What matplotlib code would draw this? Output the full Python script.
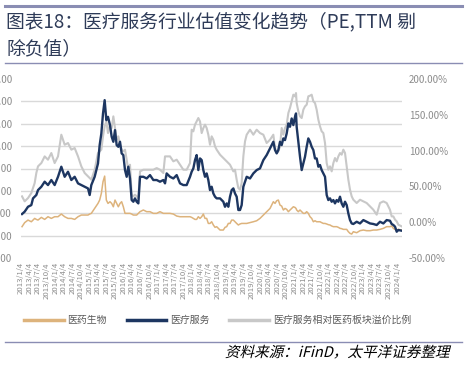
import numpy as np
import matplotlib
matplotlib.use("Agg")
import matplotlib.pyplot as plt
from matplotlib.lines import Line2D
from matplotlib.textpath import TextPath
from matplotlib.patches import PathPatch
from matplotlib.font_manager import FontProperties
from matplotlib.transforms import Affine2D

plt.rcParams['font.family'] = ['Noto Sans CJK SC', 'DejaVu Sans']

# dates as decimal years
dates = [
    2013.030, 2013.107, 2013.205, 2013.302, 2013.351, 2013.400, 2013.448, 2013.497, 2013.595, 2013.692,
    2013.789, 2013.887, 2013.984, 2014.082, 2014.179, 2014.277, 2014.374, 2014.472, 2014.569, 2014.667,
    2014.764, 2014.862, 2014.959, 2015.008, 2015.056, 2015.154, 2015.251, 2015.300, 2015.349, 2015.398,
    2015.446, 2015.495, 2015.544,
    2015.602, 2015.651, 2015.700, 2015.749, 2015.797, 2015.846, 2015.895, 2015.943, 2015.992, 2016.041,
    2016.090, 2016.138, 2016.187, 2016.236, 2016.285, 2016.333, 2016.382, 2016.431, 2016.480, 2016.577,
    2016.675, 2016.772, 2016.869, 2016.967, 2017.064, 2017.162, 2017.211, 2017.259, 2017.357, 2017.454,
    2017.552, 2017.649, 2017.747, 2017.844, 2017.942, 2017.990, 2018.039, 2018.088, 2018.136, 2018.185,
    2018.234, 2018.283, 2018.331, 2018.380, 2018.429, 2018.477, 2018.526, 2018.575, 2018.624, 2018.673,
    2018.721, 2018.819, 2018.916, 2018.965, 2019.014, 2019.062, 2019.111, 2019.160, 2019.209, 2019.257,
    2019.306, 2019.355, 2019.404, 2019.452, 2019.501, 2019.550, 2019.599, 2019.696, 2019.793, 2019.891,
    2019.988, 2020.086, 2020.183, 2020.281, 2020.378, 2020.427, 2020.476, 2020.524, 2020.573, 2020.622,
    2020.671, 2020.719, 2020.768, 2020.817,
    2020.865, 2020.914, 2020.963, 2021.012, 2021.041, 2021.060, 2021.109, 2021.158, 2021.207, 2021.255,
    2021.304, 2021.353, 2021.401, 2021.450, 2021.499, 2021.548, 2021.596, 2021.645, 2021.694, 2021.743,
    2021.791, 2021.840, 2021.889, 2021.938, 2021.986, 2022.035, 2022.084, 2022.133, 2022.181, 2022.230,
    2022.279, 2022.327, 2022.376, 2022.425, 2022.474, 2022.523, 2022.571, 2022.620, 2022.669, 2022.717,
    2022.815, 2022.912, 2023.010, 2023.107, 2023.205, 2023.302, 2023.400, 2023.497, 2023.595, 2023.692,
    2023.789, 2023.838, 2023.887, 2023.936, 2023.985, 2024.033, 2024.131,
]

# 医药生物 PE(TTM)
pharma_pe = [
    28.0, 31.6, 33.9, 32.4, 33.9, 35.4, 34.5, 33.9, 36.3, 34.5,
    36.9, 35.4, 36.9, 36.9, 39.3, 36.9, 35.4, 35.4, 34.5, 36.9,
    38.4, 38.4, 38.4, 39.3, 39.9, 44.3, 48.8, 51.8, 57.7, 68.2,
    73.2, 51.8, 48.8,
    50.3, 48.8, 45.8, 51.8, 48.8, 45.8, 48.8, 50.3, 45.8, 39.9,
    39.9, 39.9, 39.9, 39.3, 38.4, 38.4, 38.4, 39.9, 41.4, 42.9,
    41.4, 41.4, 39.9, 39.9, 41.4, 39.9, 39.9, 39.9, 39.9, 39.3,
    37.5, 36.9, 36.9, 36.9, 36.9, 36.3, 35.4, 34.5, 34.5, 36.9,
    35.4, 36.9, 39.3, 35.4, 35.4, 30.9, 30.9, 32.4, 29.5, 27.4,
    28.0, 25.0, 25.0, 27.4, 28.0, 30.9, 30.9, 33.9, 33.9, 32.4,
    30.9, 29.5, 30.4, 30.9, 30.9, 30.9, 30.9, 31.6, 32.4, 33.3,
    35.4, 38.4, 41.4, 44.3, 50.3, 48.8, 51.2, 51.8, 47.3, 46.4,
    42.9, 44.3, 43.5, 41.4,
    42.9, 44.3, 45.8, 45.2, 44.3, 42.9, 41.4, 42.9, 41.4, 39.9,
    39.9, 41.4, 39.9, 36.9, 35.4, 32.4, 33.3, 32.4, 32.4, 32.4,
    31.6, 30.9, 30.9, 30.4, 29.8, 29.5, 28.6, 28.0, 28.0, 28.0,
    27.4, 26.5, 26.2, 25.6, 25.6, 25.6, 23.5, 22.0, 21.4, 23.5,
    22.6, 24.4, 25.0, 24.4, 24.4, 25.0, 25.0, 25.6, 26.5, 28.0,
    28.0, 28.6, 26.5, 25.6, 25.0, 25.6, 25.0,
]

# 医疗服务 PE(TTM)
services_pe = [
    39.3, 41.4, 45.8, 47.3, 53.3, 54.8, 56.3, 60.7, 63.7, 68.2,
    65.2, 69.7, 65.2, 72.6, 81.6, 72.6, 77.1, 69.7, 72.6, 66.7,
    65.2, 63.7, 62.2, 56.3, 65.2, 72.6, 84.5, 100.9, 111.3, 129.2,
    141.1, 123.2, 126.2,
    118.8, 108.4, 103.9, 114.3, 100.9, 99.4, 103.9, 93.5, 92.0, 78.6,
    72.6, 81.6, 71.1, 51.8, 50.3, 53.3, 50.3, 48.8, 72.6, 72.6,
    71.1, 74.1, 69.7, 69.7, 68.2, 69.7, 66.7, 75.6, 72.6, 71.1,
    74.1, 66.7, 65.2, 65.2, 72.6, 77.1, 80.1, 87.5, 92.0, 78.6,
    89.0, 87.5, 78.6, 72.6, 75.6, 69.7, 60.7, 63.7, 57.7, 54.8,
    53.3, 53.3, 50.3, 45.8, 48.8, 45.8, 54.8, 60.7, 62.2, 57.7,
    54.8, 42.9, 42.9, 47.3, 63.7, 68.2, 72.6, 71.1, 75.6, 78.6,
    80.1, 87.5, 92.0, 97.9, 103.9, 96.5, 93.5, 96.5, 103.9, 100.9,
    106.9, 105.4, 111.3, 120.3,
    117.3, 124.7, 118.8, 126.2, 129.2, 117.3, 103.9, 90.5, 78.6, 84.5,
    90.5, 99.4, 106.9, 103.9, 99.4, 96.5, 89.0, 89.0, 81.6, 83.1,
    78.6, 75.6, 72.6, 56.3, 51.8, 53.3, 50.3, 51.8, 48.8, 51.8,
    50.3, 54.8, 48.8, 45.8, 50.3, 47.3, 39.9, 33.9, 30.9, 30.4,
    32.4, 30.9, 33.9, 32.4, 30.9, 30.4, 29.5, 32.4, 30.9, 33.9,
    33.3, 30.4, 29.5, 28.0, 23.5, 25.0, 24.4,
]

# 医疗服务相对医药板块溢价比例 (%)
premium_pct = [
    36.1, 29.1, 33.7, 40.7, 47.7, 54.7, 68.7, 78.0, 82.6, 91.9,
    87.3, 96.6, 82.6, 91.9, 122.2, 108.2, 110.6, 101.3, 103.6, 91.9,
    78.0, 68.7, 64.0, 61.7, 59.4, 73.3, 96.6, 98.9, 101.3, 119.9,
    133.8, 140.8, 124.5,
    136.2, 131.5, 147.8, 131.5, 115.2, 119.9, 108.2, 101.3, 98.9, 101.3,
    87.3, 73.3, 80.3, 38.4, 36.1, 38.4, 36.1, 33.7, 71.0, 73.3,
    73.3, 73.3, 73.3, 75.6, 73.3, 68.7, 91.9, 91.9, 91.9, 85.0,
    87.3, 80.3, 73.3, 73.3, 82.6, 129.2, 126.9, 136.2, 140.8, 145.5,
    140.8, 124.5, 131.5, 136.2, 131.5, 122.2, 108.2, 119.9, 115.2, 105.9,
    101.3, 94.3, 89.6, 87.3, 85.0, 82.6, 80.3, 75.6, 71.0, 73.3,
    59.4, 47.7, 45.4, 54.7, 91.9, 112.9, 122.2, 129.2, 122.2, 129.2,
    124.5, 122.2, 110.6, 115.2, 122.2, 103.6, 96.6, 98.9, 105.9, 131.5,
    122.2, 131.5, 136.2, 152.5,
    159.5, 168.8, 178.1, 175.8, 180.4, 166.4, 154.8, 147.8, 145.5, 157.1,
    161.8, 164.1, 175.8, 176.7, 178.1, 168.8, 166.4, 157.1, 143.2, 133.8,
    126.9, 124.5, 110.6, 82.6, 73.3, 78.0, 71.0, 82.6, 89.6, 85.0,
    91.9, 96.6, 94.3, 101.3, 96.6, 78.0, 59.4, 45.4, 36.1, 31.4,
    26.8, 31.4, 29.1, 26.8, 22.1, 17.4, 10.5, 26.8, 29.1, 26.8,
    17.4, 8.1, 8.1, 3.5, 1.2, -3.5, -5.8,
]

left_ticks = [0, 20, 40, 60, 80, 100, 120, 140, 160]
right_ticks = [-50, 0, 50, 100, 150, 200]
tick_years = [y + (m - 1) / 12 for y in range(2013, 2025) for m in (1, 4, 7, 10)][:45]
tick_labels = [f"{y}/{m}/4" for y in range(2013, 2025) for m in (1, 4, 7, 10)][:45]

C_PHARMA = "#DDB37C"
C_SERV = "#1D3661"
C_PREM = "#C8C8C8"
C_RULE = "#8A8DB3"
C_TICK = "#8C8C8C"

W, H = 467, 374
fig = plt.figure(figsize=(W / 100, H / 100), dpi=100)

ax = fig.add_axes([21 / W, 1 - 258 / H, 381 / W, 179 / H])
ax2 = ax.twinx()
ax.set_zorder(ax2.get_zorder() + 1)
ax.patch.set_visible(False)

ax2.plot(dates, premium_pct, color=C_PREM, lw=1.5)
ax.plot(dates, pharma_pe, color=C_PHARMA, lw=1.1)
ax.plot(dates, services_pe, color=C_SERV, lw=1.7)

ax.set_xlim(2013.0, 2024.14)
ax.set_ylim(0, 160)
ax2.set_ylim(-50, 200)

ax.set_yticks(left_ticks)
ax.set_yticklabels([f"{v:.2f}" for v in left_ticks])
ax2.set_yticks(right_ticks)
ax2.set_yticklabels([f"{v:.2f}%" for v in right_ticks])
ax2.set_yticks(np.linspace(-50, 200, 9), minor=True)
ax2.grid(which="minor", color="#D9D9D9", lw=1.0)
ax2.grid(which="major", visible=False)

ax.set_xticks(tick_years)
ax.set_xticklabels(tick_labels, rotation=90)

for a in (ax, ax2):
    for s in a.spines.values():
        s.set_visible(False)
ax.tick_params(axis="y", length=0, pad=6.5, labelsize=7, labelcolor=C_TICK)
ax2.tick_params(axis="y", which="both", length=0, pad=5, labelsize=7, labelcolor=C_TICK)
ax.tick_params(axis="x", length=0, pad=3, labelsize=5.6, labelcolor=C_TICK)

# legend
handles = [Line2D([], [], color=C_PHARMA, lw=2.5),
           Line2D([], [], color=C_SERV, lw=2.5),
           Line2D([], [], color=C_PREM, lw=2.5)]
leg = fig.legend(handles, ["医药生物", "医疗服务", "医疗服务相对医药板块溢价比例"],
                 loc="center", bbox_to_anchor=(0.466, 1 - 320 / H), ncol=3,
                 frameon=False, fontsize=7.1, handlelength=4.0, handletextpad=0.4,
                 columnspacing=2.0)
for t in leg.get_texts():
    t.set_color("#595959")

# title block
fig.add_artist(Line2D([5 / W, 462 / W], [1 - 5.5 / H, 1 - 5.5 / H], color=C_RULE, lw=2.2))
fig.add_artist(Line2D([5 / W, 462 / W], [1 - 63 / H, 1 - 63 / H], color=C_RULE, lw=1.0))
fig.text(6 / W, 1 - 22 / H, "图表18：医疗服务行业估值变化趋势（PE,TTM 剔",
         fontsize=13.5, color="#2E3B58", va="center")
fig.text(6 / W, 1 - 49 / H, "除负值）", fontsize=13.5, color="#2E3B58", va="center")

# source line, slanted like the italic original
fig.add_artist(Line2D([5 / W, 462 / W], [1 - 342 / H, 1 - 342 / H], color=C_RULE, lw=1.0))
fp = FontProperties(family="Noto Sans CJK SC", size=10.5)
tp = TextPath((0, 0), "资料来源：iFinD，太平洋证券整理", prop=fp)
bb = tp.get_extents()
k = 100 / 72
tr = Affine2D().scale(k).skew_deg(14, 0)
tr = tr.translate(452 - bb.x1 * k - 3, H - 357)
fig.add_artist(PathPatch(tp, transform=tr, color="black", lw=0))

fig.savefig("out.png", dpi=100)
